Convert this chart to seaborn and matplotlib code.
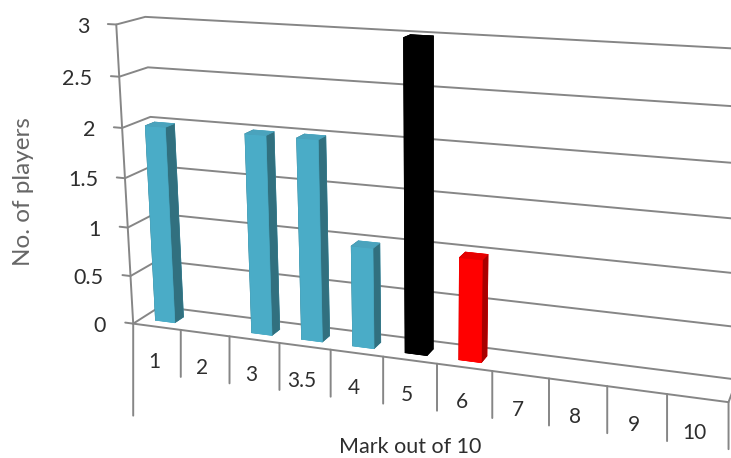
import matplotlib
matplotlib.use("Agg")
import matplotlib.pyplot as plt
import seaborn as sns
from mpl_toolkits.mplot3d import proj3d

# Data
marks = ["1", "2", "3", "3.5", "4", "5", "6", "7", "8", "9", "10"]
players = [2, 0, 2, 2, 1, 3, 1, 0, 0, 0, 0]
value_ticks = [0, 0.5, 1, 1.5, 2, 2.5, 3]
value_labels = ["0", "0.5", "1", "1.5", "2", "2.5", "3"]
bar_colors = ["blue", "blue", "blue", "blue", "blue", "black", "red", "blue", "blue", "blue", "blue"]

# top, front and side colour of a column
faces = {
    "blue": ("#4aa3bd", "#4aacc7", "#31707f"),
    "black": ("#000000", "#000000", "#000000"),
    "red": ("#e60000", "#ff0000", "#a80000"),
}

sns.set_theme(style="white")
plt.rcParams["font.family"] = ["Lato", "DejaVu Sans"]

GRID = "#868686"
TEXT = "#2e2e2e"
W, H = 731, 458

fig = plt.figure(figsize=(W / 100, H / 100), dpi=100)
ax = fig.add_subplot(projection="3d", computed_zorder=False)

# Camera worked out from the vanishing points of the picture
ax.set_position([-32.2 / W, -190 / H, 900 / W, 900 / H])
ax.set_proj_type("persp", focal_length=0.294)
ax.view_init(elev=14.9, azim=-70.7)
ax.set_xlim(-0.186, 11)
ax.set_ylim(0, 2.646)
ax.set_zlim(0, 3)
ax.set_box_aspect((4.394, 1.040, 2.204), zoom=0.775)
ax.set_axis_off()

n = len(marks)


def line(xs, ys, zs):
    ax.plot(xs, ys, zs, color=GRID, lw=1.4, zorder=1)


# Walls and floor
for v in value_ticks:
    line([-0.17, 0, 0, n], [0, 0, 1, 1], [v, v, v, v])
line([0, 0], [0, 0], [0, 3])
line([0, n, n], [0, 0, 1], [0, 0, 0])

# Columns
for i, (val, c) in enumerate(zip(players, bar_colors)):
    if val == 0:
        continue
    top, front, side = faces[c]
    # order of bar3d faces: bottom, top, front, back, left, right
    cols = [front, top, front, front, side, side]
    ax.bar3d(i + 0.3, 0.3, 0, 0.41, 0.33, val, shade=False,
             color=cols, edgecolor=cols, linewidth=0.5, zorder=3 + i)


def flat(x, y, z):
    xs, ys, _ = proj3d.proj_transform(x, y, z, ax.get_proj())
    return xs, ys


def drop(i, length):
    ax.annotate("", xy=flat(i, 0, 0), xytext=(0, -length), textcoords="offset pixels",
                annotation_clip=False,
                arrowprops=dict(arrowstyle="-", color=GRID, lw=1.4, shrinkA=0, shrinkB=0))


# Category axis
drop(0, 92)
for i in range(1, n + 1):
    drop(i, 47)
for i, m in enumerate(marks):
    ax.annotate(m, xy=flat(i + 0.5, 0, 0), xytext=(-3, -35), textcoords="offset pixels",
                ha="center", va="center", fontsize=15, color=TEXT, annotation_clip=False)

# Value axis
for v, lab in zip(value_ticks, value_labels):
    ax.annotate(lab, xy=flat(0, 0, v), xytext=(-27, -2), textcoords="offset pixels",
                ha="right", va="center", fontsize=15.5, color=TEXT, annotation_clip=False)

fig.text(410 / W, 1 - 447 / H, "Mark out of 10", ha="center", va="center", fontsize=15.5, color=TEXT)
fig.text(24 / W, 1 - 192 / H, "No. of players", ha="center", va="center", rotation=90,
         fontsize=17.5, color="#666666")

fig.savefig("out.png", dpi=100)
